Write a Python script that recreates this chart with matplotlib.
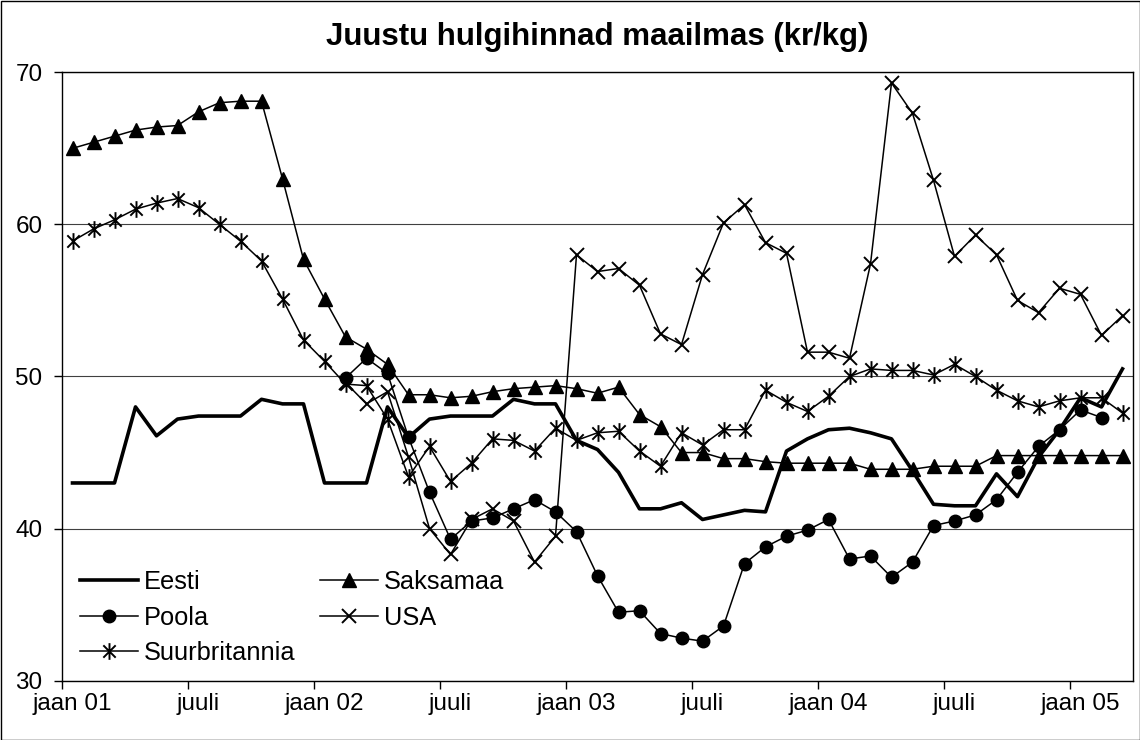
import numpy as np
import matplotlib
matplotlib.use('Agg')
import matplotlib.pyplot as plt
from matplotlib.path import Path
from matplotlib.patches import Rectangle

plt.rcParams['font.family'] = ['Liberation Sans', 'DejaVu Sans']

# monthly prices, jaan 01 .. mar 05 (51 months)
n_months = 51
tick_labels = ['jaan 01', 'juuli', 'jaan 02', 'juuli', 'jaan 03',
               'juuli', 'jaan 04', 'juuli', 'jaan 05']

eesti = [43.0, 43.0, 43.0, 48.0, 46.1, 47.2, 47.4, 47.4, 47.4, 48.5, 48.2, 48.2,
         43.0, 43.0, 43.0, 48.0, 46.0, 47.2, 47.4, 47.4, 47.4, 48.5, 48.2, 48.2,
         45.8, 45.2, 43.7, 41.3, 41.3, 41.7, 40.6, 40.9, 41.2, 41.1, 45.1, 45.9,
         46.5, 46.6, 46.3, 45.9, 43.8, 41.6, 41.5, 41.5, 43.6, 42.1, 44.7, 46.5,
         48.6, 48.0, 50.5]

saksamaa = [65.0, 65.4, 65.8, 66.2, 66.4, 66.5, 67.4, 68.0, 68.1, 68.1, 63.0, 57.7,
            55.1, 52.6, 51.8, 50.8, 48.8, 48.8, 48.6, 48.7, 49.0, 49.2, 49.3, 49.4,
            49.2, 48.9, 49.3, 47.5, 46.7, 45.0, 45.0, 44.6, 44.6, 44.4, 44.3, 44.3,
            44.3, 44.3, 43.9, 43.9, 43.9, 44.1, 44.1, 44.1, 44.8, 44.8, 44.8, 44.8,
            44.8, 44.8, 44.8]

# Poola starts feb 02, ends feb 05
poola_start = 13
poola = [49.9, 51.2, 50.2, 46.0, 42.4, 39.3, 40.5, 40.7, 41.3, 41.9, 41.1,
         39.8, 36.9, 34.5, 34.6, 33.1, 32.8, 32.6, 33.6, 37.7, 38.8, 39.5, 39.9,
         40.6, 38.0, 38.2, 36.8, 37.8, 40.2, 40.5, 40.9, 41.9, 43.7, 45.4, 46.5,
         47.8, 47.3]

# USA starts feb 02
usa_start = 13
usa = [49.6, 48.2, 49.0, 44.7, 40.0, 38.3, 40.6, 41.3, 40.5, 37.8, 39.5,
       58.0, 56.9, 57.1, 56.0, 52.8, 52.1, 56.7, 60.1, 61.3, 58.8, 58.1, 51.6,
       51.6, 51.2, 57.4, 69.3, 67.3, 62.9, 57.9, 59.3, 58.0, 55.0, 54.2, 55.8,
       55.4, 52.7, 54.0]

suurbritannia = [58.9, 59.7, 60.3, 61.0, 61.4, 61.7, 61.1, 60.0, 58.9, 57.6, 55.1, 52.4,
                 51.0, 49.5, 49.4, 47.2, 43.4, 45.4, 43.1, 44.3, 45.9, 45.8, 45.1, 46.6,
                 45.8, 46.3, 46.4, 45.1, 44.1, 46.3, 45.5, 46.5, 46.5, 49.1, 48.3, 47.7,
                 48.7, 50.0, 50.5, 50.4, 50.4, 50.1, 50.8, 50.0, 49.1, 48.4, 48.0, 48.4,
                 48.6, 48.6, 47.6]

# points sit in the middle of each month (category axis)
x_all = np.arange(n_months) + 0.5
x_poola = x_all[poola_start:poola_start + len(poola)]
x_usa = x_all[usa_start:usa_start + len(usa)]

# excel style star: x with a vertical bar
star = Path([(-1, -1), (1, 1), (-1, 1), (1, -1), (0, -1.35), (0, 1.35)],
            [Path.MOVETO, Path.LINETO, Path.MOVETO, Path.LINETO, Path.MOVETO, Path.LINETO])

fig = plt.figure(figsize=(11.4, 7.4), dpi=100)
ax = fig.add_axes([62 / 1140, 1 - 680.7 / 740, (1133 - 62) / 1140, (680.7 - 72.3) / 740])

thin = 1.1
h_suur, = ax.plot(x_all, suurbritannia, color='black', lw=thin, marker=star, ms=12,
                  mew=1.4, mfc='none', label='Suurbritannia')
h_usa, = ax.plot(x_usa, usa, color='black', lw=thin, marker='x', ms=10, mew=1.4,
                 label='USA')
h_poola, = ax.plot(x_poola, poola, color='black', lw=thin, marker='o', ms=9,
                   label='Poola')
h_saks, = ax.plot(x_all, saksamaa, color='black', lw=thin, marker='^', ms=10,
                  label='Saksamaa')
h_eesti, = ax.plot(x_all, eesti, color='black', lw=2.6, label='Eesti')

ax.set_xlim(0, n_months)
ax.set_ylim(30, 70)
ax.set_yticks(np.arange(30, 71, 10))
ax.yaxis.grid(True, color='#404040', lw=0.8)
ax.set_axisbelow(True)

ax.set_xticks(np.arange(0, 49, 6))
ax.set_xticklabels([])
ax.set_xticks(np.arange(0, 49, 6) + 0.5, minor=True)
ax.set_xticklabels(tick_labels, minor=True)

ax.tick_params(axis='both', which='major', direction='out', length=6, width=1,
               color='black', labelsize=17.5, pad=8)
ax.tick_params(axis='x', which='minor', length=0, labelsize=17.5, pad=8.5)
for s in ax.spines.values():
    s.set_color('black')
    s.set_linewidth(1)

ax.legend(handles=[h_eesti, h_poola, h_suur, h_saks, h_usa], ncol=2, frameon=False,
          loc='upper left', bbox_to_anchor=(0.0168, 0.182), fontsize=18.3,
          handlelength=2.28, handletextpad=0.24, columnspacing=0.95,
          labelspacing=0.46, borderpad=0, borderaxespad=0)

fig.text(597.5 / 1140, 1 - 37 / 740, 'Juustu hulgihinnad maailmas (kr/kg)',
         ha='center', va='center', fontsize=22.5, fontweight='bold')

fig.patches.append(Rectangle((0.5 / 1140, 0.5 / 740), 1 - 1 / 1140, 1 - 1 / 740,
                             transform=fig.transFigure, fill=False, lw=1,
                             edgecolor='black'))

plt.savefig('out.png', dpi=100)
